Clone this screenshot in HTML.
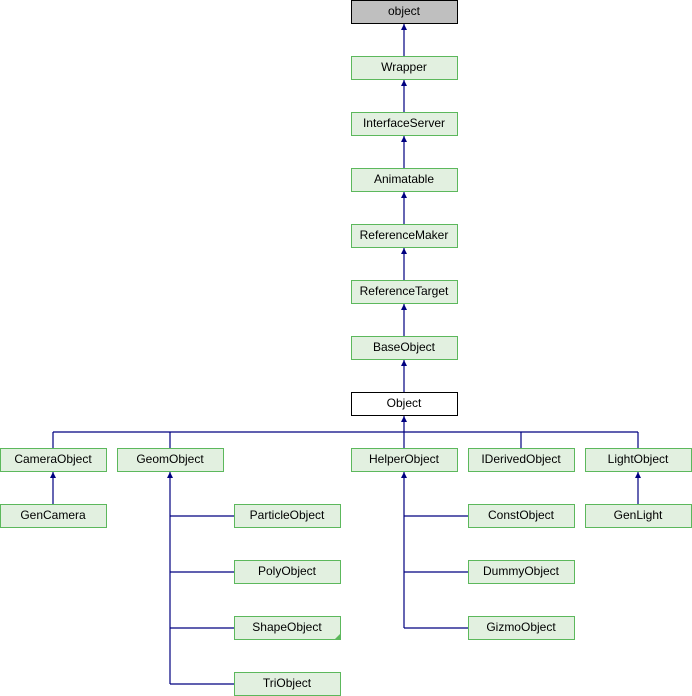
<!DOCTYPE html>
<html><head><meta charset="utf-8"><style>
html,body{margin:0;padding:0;background:#fff;width:692px;height:696px;overflow:hidden}
text{font-family:"Liberation Sans",Arial,sans-serif;font-size:12px;fill:#000}
</style></head><body>
<svg width="692" height="696" xmlns="http://www.w3.org/2000/svg">
<g stroke="#000080" stroke-width="1.2" fill="none">
<line x1="404" y1="24" x2="404" y2="56"/>
<line x1="404" y1="80" x2="404" y2="112"/>
<line x1="404" y1="136" x2="404" y2="168"/>
<line x1="404" y1="192" x2="404" y2="224"/>
<line x1="404" y1="248" x2="404" y2="280"/>
<line x1="404" y1="304" x2="404" y2="336"/>
<line x1="404" y1="360" x2="404" y2="392"/>
<line x1="404" y1="416" x2="404" y2="448"/>
<line x1="53" y1="432" x2="638" y2="432"/>
<line x1="53" y1="432" x2="53" y2="448"/>
<line x1="170" y1="432" x2="170" y2="448"/>
<line x1="521" y1="432" x2="521" y2="448"/>
<line x1="638" y1="432" x2="638" y2="448"/>
<line x1="53" y1="472" x2="53" y2="504"/>
<line x1="638" y1="472" x2="638" y2="504"/>
<line x1="170" y1="472" x2="170" y2="684"/>
<line x1="170" y1="516" x2="234" y2="516"/>
<line x1="170" y1="572" x2="234" y2="572"/>
<line x1="170" y1="628" x2="234" y2="628"/>
<line x1="170" y1="684" x2="234" y2="684"/>
<line x1="404" y1="472" x2="404" y2="628"/>
<line x1="404" y1="516" x2="468" y2="516"/>
<line x1="404" y1="572" x2="468" y2="572"/>
<line x1="404" y1="628" x2="468" y2="628"/>
</g>
<g fill="#000080">
<polygon points="404,24 401,30 407,30"/>
<polygon points="404,80 401,86 407,86"/>
<polygon points="404,136 401,142 407,142"/>
<polygon points="404,192 401,198 407,198"/>
<polygon points="404,248 401,254 407,254"/>
<polygon points="404,304 401,310 407,310"/>
<polygon points="404,360 401,366 407,366"/>
<polygon points="404,416 401,422 407,422"/>
<polygon points="53,472 50,478 56,478"/>
<polygon points="170,472 167,478 173,478"/>
<polygon points="404,472 401,478 407,478"/>
<polygon points="638,472 635,478 641,478"/>
</g>
<g stroke="#5cb85c" stroke-width="1" fill="#e2f0e0">
<rect x="351.5" y="56.5" width="106" height="23"/>
<rect x="351.5" y="112.5" width="106" height="23"/>
<rect x="351.5" y="168.5" width="106" height="23"/>
<rect x="351.5" y="224.5" width="106" height="23"/>
<rect x="351.5" y="280.5" width="106" height="23"/>
<rect x="351.5" y="336.5" width="106" height="23"/>
<rect x="0.5" y="448.5" width="106" height="23"/>
<rect x="117.5" y="448.5" width="106" height="23"/>
<rect x="351.5" y="448.5" width="106" height="23"/>
<rect x="468.5" y="448.5" width="106" height="23"/>
<rect x="585.5" y="448.5" width="106" height="23"/>
<rect x="0.5" y="504.5" width="106" height="23"/>
<rect x="585.5" y="504.5" width="106" height="23"/>
<rect x="234.5" y="504.5" width="106" height="23"/>
<rect x="234.5" y="560.5" width="106" height="23"/>
<rect x="234.5" y="616.5" width="106" height="23"/>
<rect x="234.5" y="672.5" width="106" height="23"/>
<rect x="468.5" y="504.5" width="106" height="23"/>
<rect x="468.5" y="560.5" width="106" height="23"/>
<rect x="468.5" y="616.5" width="106" height="23"/>
</g>
<polygon points="340,634 340,640 334,640" fill="#5cb85c"/>
<rect x="351.5" y="0.5" width="106" height="23" fill="#bfbfbf" stroke="#000"/>
<rect x="351.5" y="392.5" width="106" height="23" fill="#fff" stroke="#000"/>
<g text-anchor="middle">
<text x="404" y="15">object</text>
<text x="404" y="71">Wrapper</text>
<text x="404" y="127">InterfaceServer</text>
<text x="404" y="183">Animatable</text>
<text x="404" y="239">ReferenceMaker</text>
<text x="404" y="295">ReferenceTarget</text>
<text x="404" y="351">BaseObject</text>
<text x="404" y="407">Object</text>
<text x="53" y="463">CameraObject</text>
<text x="170" y="463">GeomObject</text>
<text x="404" y="463">HelperObject</text>
<text x="521" y="463">IDerivedObject</text>
<text x="638" y="463">LightObject</text>
<text x="53" y="519">GenCamera</text>
<text x="638" y="519">GenLight</text>
<text x="287" y="519">ParticleObject</text>
<text x="287" y="575">PolyObject</text>
<text x="287" y="631">ShapeObject</text>
<text x="287" y="687">TriObject</text>
<text x="521" y="519">ConstObject</text>
<text x="521" y="575">DummyObject</text>
<text x="521" y="631">GizmoObject</text>
</g>
</svg>
</body></html>
